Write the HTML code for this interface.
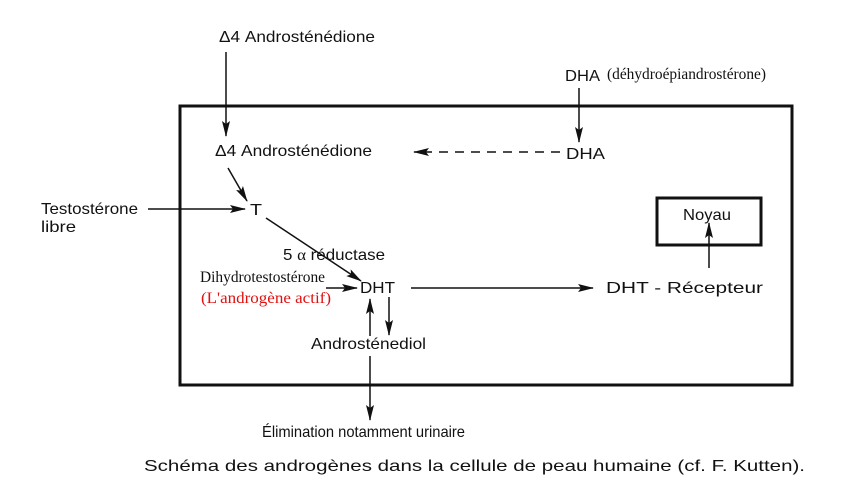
<!DOCTYPE html>
<html><head><meta charset="utf-8"><style>
html,body{margin:0;padding:0;background:#fff;}
svg{display:block;}
.s{font-family:"Liberation Sans",sans-serif;font-size:16px;fill:#111;}
.r{font-family:"Liberation Serif",serif;}
</style></head><body>
<svg width="866" height="500" viewBox="0 0 866 500" xmlns="http://www.w3.org/2000/svg">
<defs>
<marker id="a" markerWidth="16" markerHeight="8" refX="15" refY="4" orient="auto" markerUnits="userSpaceOnUse">
<path d="M0,0 L16,4 L0,8 L3,4 Z" fill="#111"/></marker>
</defs>
<g stroke="#111" fill="none">
<rect x="180" y="106" width="612" height="279" stroke-width="3"/>
<rect x="657" y="198" width="104" height="47" stroke-width="3"/>
<g stroke-width="1.5" marker-end="url(#a)">
<line x1="226" y1="52" x2="226" y2="136"/>
<line x1="579" y1="88" x2="579" y2="142"/>
<line x1="560" y1="152" x2="414" y2="152" stroke-dasharray="9,7"/>
<line x1="228" y1="168" x2="247" y2="201"/>
<line x1="148" y1="209" x2="245" y2="209"/>
<line x1="266" y1="218" x2="361" y2="281"/>
<line x1="326" y1="288" x2="357" y2="288"/>
<line x1="411" y1="288" x2="593" y2="288"/>
<line x1="709" y1="268" x2="709" y2="223"/>
<line x1="389" y1="297" x2="389" y2="335"/>
<line x1="370" y1="336" x2="370" y2="299"/>
<line x1="370" y1="356" x2="370" y2="420"/>
</g>
</g>
<g lengthAdjust="spacingAndGlyphs">
<text class="s" x="219" y="42" textLength="156" lengthAdjust="spacingAndGlyphs">Δ4 Androsténédione</text>
<text class="s" x="215" y="156" textLength="157" lengthAdjust="spacingAndGlyphs">Δ4 Androsténédione</text>
<text class="s" x="565" y="81" textLength="35" lengthAdjust="spacingAndGlyphs">DHA</text>
<text class="s r" x="607" y="79" font-size="13" textLength="159" lengthAdjust="spacingAndGlyphs">(déhydroépiandrostérone)</text>
<text class="s" x="566" y="159" textLength="39" lengthAdjust="spacingAndGlyphs">DHA</text>
<text class="s" x="41" y="214" textLength="97" lengthAdjust="spacingAndGlyphs">Testostérone</text>
<text class="s" x="41" y="232" textLength="35" lengthAdjust="spacingAndGlyphs">libre</text>
<text class="s" x="250" y="215" textLength="12" lengthAdjust="spacingAndGlyphs">T</text>
<text class="s" x="283" y="260" textLength="102" lengthAdjust="spacingAndGlyphs">5 <tspan class="r">α</tspan> réductase</text>
<text class="s r" x="200" y="282" font-size="15" textLength="125" lengthAdjust="spacingAndGlyphs">Dihydrotestostérone</text>
<text class="s r" x="201" y="303" font-size="15" style="fill:#e01010" textLength="130" lengthAdjust="spacingAndGlyphs">(L'androgène actif)</text>
<text class="s" x="360" y="293" textLength="35" lengthAdjust="spacingAndGlyphs">DHT</text>
<text class="s" x="606" y="293" textLength="157" lengthAdjust="spacingAndGlyphs">DHT - Récepteur</text>
<text class="s" x="683" y="220" textLength="48" lengthAdjust="spacingAndGlyphs">Noyau</text>
<text class="s" x="311" y="349" textLength="115" lengthAdjust="spacingAndGlyphs">Androsténediol</text>
<text class="s" x="262" y="437" textLength="203" lengthAdjust="spacingAndGlyphs">Élimination notamment urinaire</text>
<text class="s" x="144" y="471" font-size="17" textLength="661" lengthAdjust="spacingAndGlyphs">Schéma des androgènes dans la cellule de peau humaine (cf. F. Kutten).</text>
</g>
</svg>
</body></html>
